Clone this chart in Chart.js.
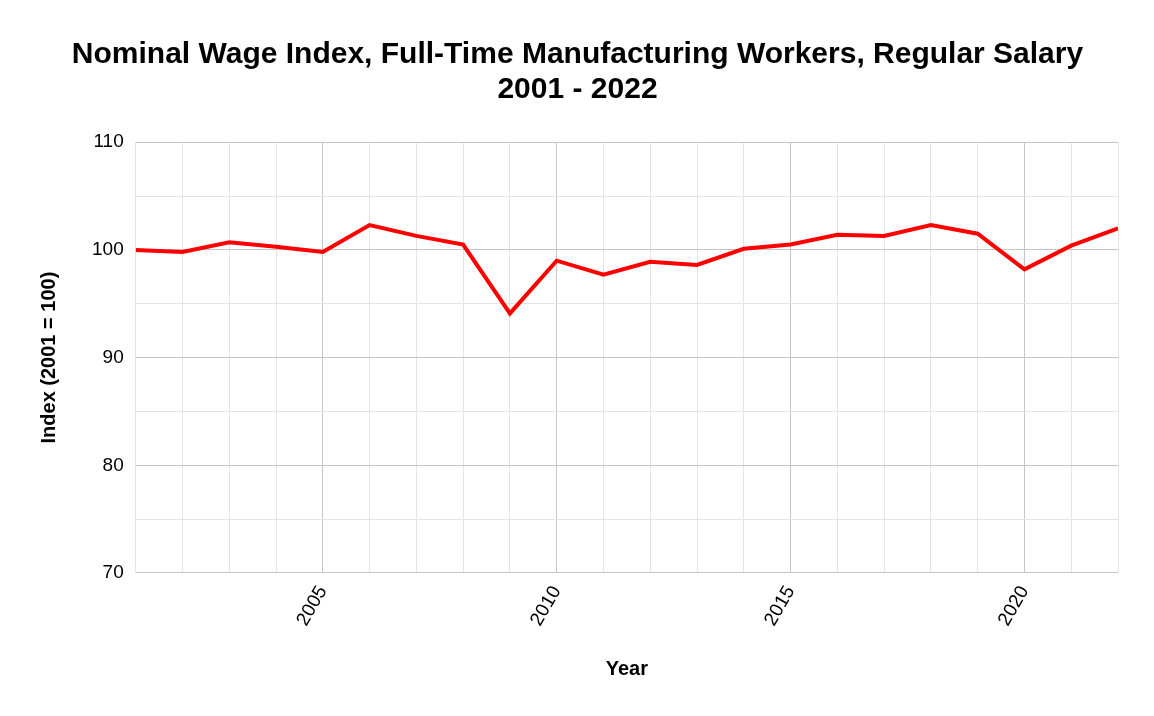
<!DOCTYPE html>
<html>
<head>
<meta charset="utf-8">
<script src="https://cdn.jsdelivr.net/npm/chart.js@4"></script>
<style>
  html, body { margin: 0; padding: 0; background: #fff; }
  #wrap { width: 1154px; height: 716px; }
</style>
</head>
<body>
<div id="wrap"><canvas id="grafico"></canvas></div>
<script>
const anos = [2001, 2002, 2003, 2004, 2005, 2006, 2007, 2008, 2009, 2010, 2011,
              2012, 2013, 2014, 2015, 2016, 2017, 2018, 2019, 2020, 2021, 2022]
const indice = [100.0, 99.8, 100.7, 100.3, 99.8, 102.3, 101.3, 100.5, 94.1, 99.0, 97.7,
                98.9, 98.6, 100.1, 100.5, 101.4, 101.3, 102.3, 101.5, 98.2, 100.4, 102.0]
const titulo = ['Nominal Wage Index, Full-Time Manufacturing Workers, Regular Salary', '2001 - 2022']
const vermelho = '#ff0000'
const fonte = "'Liberation Sans', Arial, sans-serif"

const fundoBranco = {
    id: 'fundoBranco',
    beforeDraw(chart) {
        const ctx = chart.ctx
        ctx.save()
        ctx.fillStyle = '#fff'
        ctx.fillRect(0, 0, chart.width, chart.height)
        ctx.restore()
    }
}

const data = {
    datasets: [
        {
            label: 'Index',
            data: anos.map((a, i) => ({ x: a, y: indice[i] })),
            fill: false,
            borderColor: vermelho,
            backgroundColor: vermelho,
            borderWidth: 4,
            pointRadius: 0,
            tension: 0
        }
    ]
}

const config = {
    type: 'line',
    data: data,
    plugins: [fundoBranco],
    options: {
        responsive: true,
        maintainAspectRatio: false,
        animation: false,
        layout: { padding: { left: 37, right: 36, top: 0, bottom: 31 } },
        plugins: {
            legend: { display: false },
            tooltip: { enabled: false },
            title: {
                display: true,
                text: titulo,
                color: '#000',
                font: { family: fonte, size: 30, weight: 'bold', lineHeight: 1.17 },
                padding: { top: 37, bottom: 35 }
            }
        },
        scales: {
            x: {
                type: 'linear',
                min: 2001,
                max: 2022,
                border: { display: false },
                grid: {
                    color: c => (c.tick && c.tick.value % 5 === 0) ? '#c6c6c6' : '#e4e4e4',
                    drawTicks: false
                },
                ticks: {
                    stepSize: 1,
                    autoSkip: false,
                    minRotation: 60,
                    maxRotation: 60,
                    padding: 9,
                    color: '#000',
                    font: { family: fonte, size: 19 },
                    callback: v => v % 5 === 0 ? String(v) : ''
                },
                title: {
                    display: true,
                    text: 'Year',
                    color: '#000',
                    font: { family: fonte, size: 20, weight: 'bold' },
                    padding: { top: 18 }
                }
            },
            y: {
                min: 70,
                max: 110,
                border: { display: false },
                grid: {
                    color: c => (c.tick && c.tick.value % 10 === 0) ? '#c6c6c6' : '#e4e4e4',
                    drawTicks: false
                },
                ticks: {
                    stepSize: 5,
                    padding: 12,
                    color: '#000',
                    font: { family: fonte, size: 19 },
                    callback: v => v % 10 === 0 ? String(v) : ''
                },
                title: {
                    display: true,
                    text: 'Index (2001 = 100)',
                    color: '#000',
                    font: { family: fonte, size: 20, weight: 'bold' },
                    padding: { top: 0, bottom: 19 }
                }
            }
        }
    }
}

const meuGrafico = new Chart(document.querySelector('#grafico'), config)
</script>
</body>
</html>
